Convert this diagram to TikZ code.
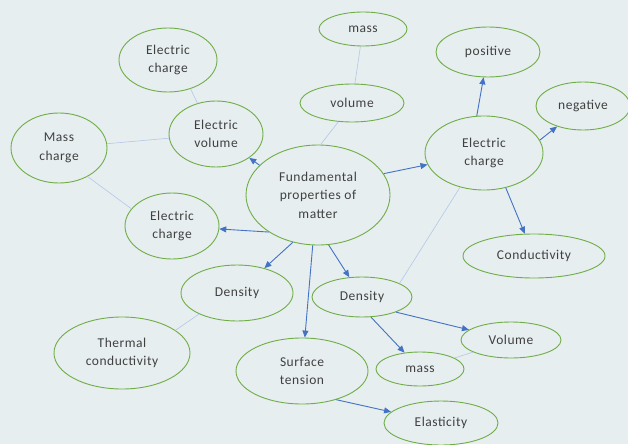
\documentclass[tikz,border=0pt]{standalone}
\usepackage{fontspec}
\setmainfont{Carlito}[LetterSpace=4]
\usetikzlibrary{shapes.geometric,arrows.meta}
\definecolor{bgcol}{RGB}{230,238,240}
\definecolor{ringcol}{RGB}{112,173,71}
\definecolor{arrcol}{RGB}{68,114,196}
\definecolor{linkcol}{RGB}{180,199,231}
\definecolor{txtcol}{RGB}{64,64,64}
\tikzset{
	bubble/.style 2 args={ellipse, draw=ringcol, line width=0.9pt, minimum width=#1pt, minimum height=#2pt, inner sep=0pt, align=center, text=txtcol, font=\fontsize{13.5}{18.5}\selectfont},
	arr/.style={arrcol, line width=0.9pt, -{Triangle[length=7pt,width=6pt]}},
	link/.style={linkcol, line width=0.6pt}
}
\begin{document}
\begin{tikzpicture}[x=1pt,y=-1pt]
			%%%%% START %%%%%
			
			\fill[bgcol] (0,0) rectangle (628,444);
			\useasboundingbox (0,0) rectangle (628,444);
			
			\node[bubble={98}{64}] (ectop) at (168,60) {Electric\\charge};
			\node[bubble={94}{66}] (evol) at (216,134) {Electric\\volume};
			\node[bubble={96}{70}] (mch) at (59,148) {Mass\\charge};
			\node[bubble={94}{66}] (ecl) at (172,226) {Electric\\charge};
			\node[bubble={144}{100}] (fund) at (318,195) {Fundamental\\properties of\\matter};
			
			\node[bubble={88}{34}] (masstop) at (363,29) {mass};
			\node[bubble={104}{38}] (vol) at (352,103) {volume};
			\node[bubble={104}{50}] (pos) at (488,52) {positive};
			\node[bubble={94}{48}] (neg) at (583,106) {negative};
			\node[bubble={118}{74}] (ecr) at (484,153) {Electric\\charge};
			\node[bubble={142}{44}] (cond) at (534,256) {Conductivity};
			
			\node[bubble={112}{56}] (densl) at (237,293) {Density};
			\node[bubble={100}{40}] (densr) at (362,297) {Density};
			\node[bubble={136}{72}] (therm) at (122,353) {Thermal\\conductivity};
			\node[bubble={132}{66}] (surf) at (302,371) {Surface\\tension};
			\node[bubble={100}{36}] (volb) at (511,340) {Volume};
			\node[bubble={88}{34}] (massb) at (420,369) {mass};
			\node[bubble={114}{44}] (elast) at (441,423) {Elasticity};
			
			\draw[link] (ectop.308) -- (evol.121);
			\draw[link] (mch) -- (evol);
			\draw[link] (mch.315) -- (ecl.157);
			\draw[link] (masstop) -- (vol);
			\draw[link] (vol.234) -- (fund.87);
			\draw[link] (ecr.235) -- (densr.20);
			\draw[link] (densl.209) -- (therm.23);
			\draw[link] (massb) -- (volb);
			
			\draw[arr] (fund.153) -- (evol);
			\draw[arr] (fund.217) -- (ecl);
			\draw[arr] (fund.18) -- (ecr);
			\draw[arr] (fund.242) -- (densl);
			\draw[arr] (fund.264) -- (surf);
			\draw[arr] (fund.282) -- (densr);
			
			\draw[arr] (ecr.101) -- (pos);
			\draw[arr] (ecr.13) -- (neg);
			\draw[arr] (ecr.302) -- (cond);
			
			\draw[arr] (densr.336) -- (volb);
			\draw[arr] (densr.294) -- (massb);
			\draw[arr] (surf.320) -- (elast);
			
			%%%%% END %%%%%
\end{tikzpicture}
\end{document}
